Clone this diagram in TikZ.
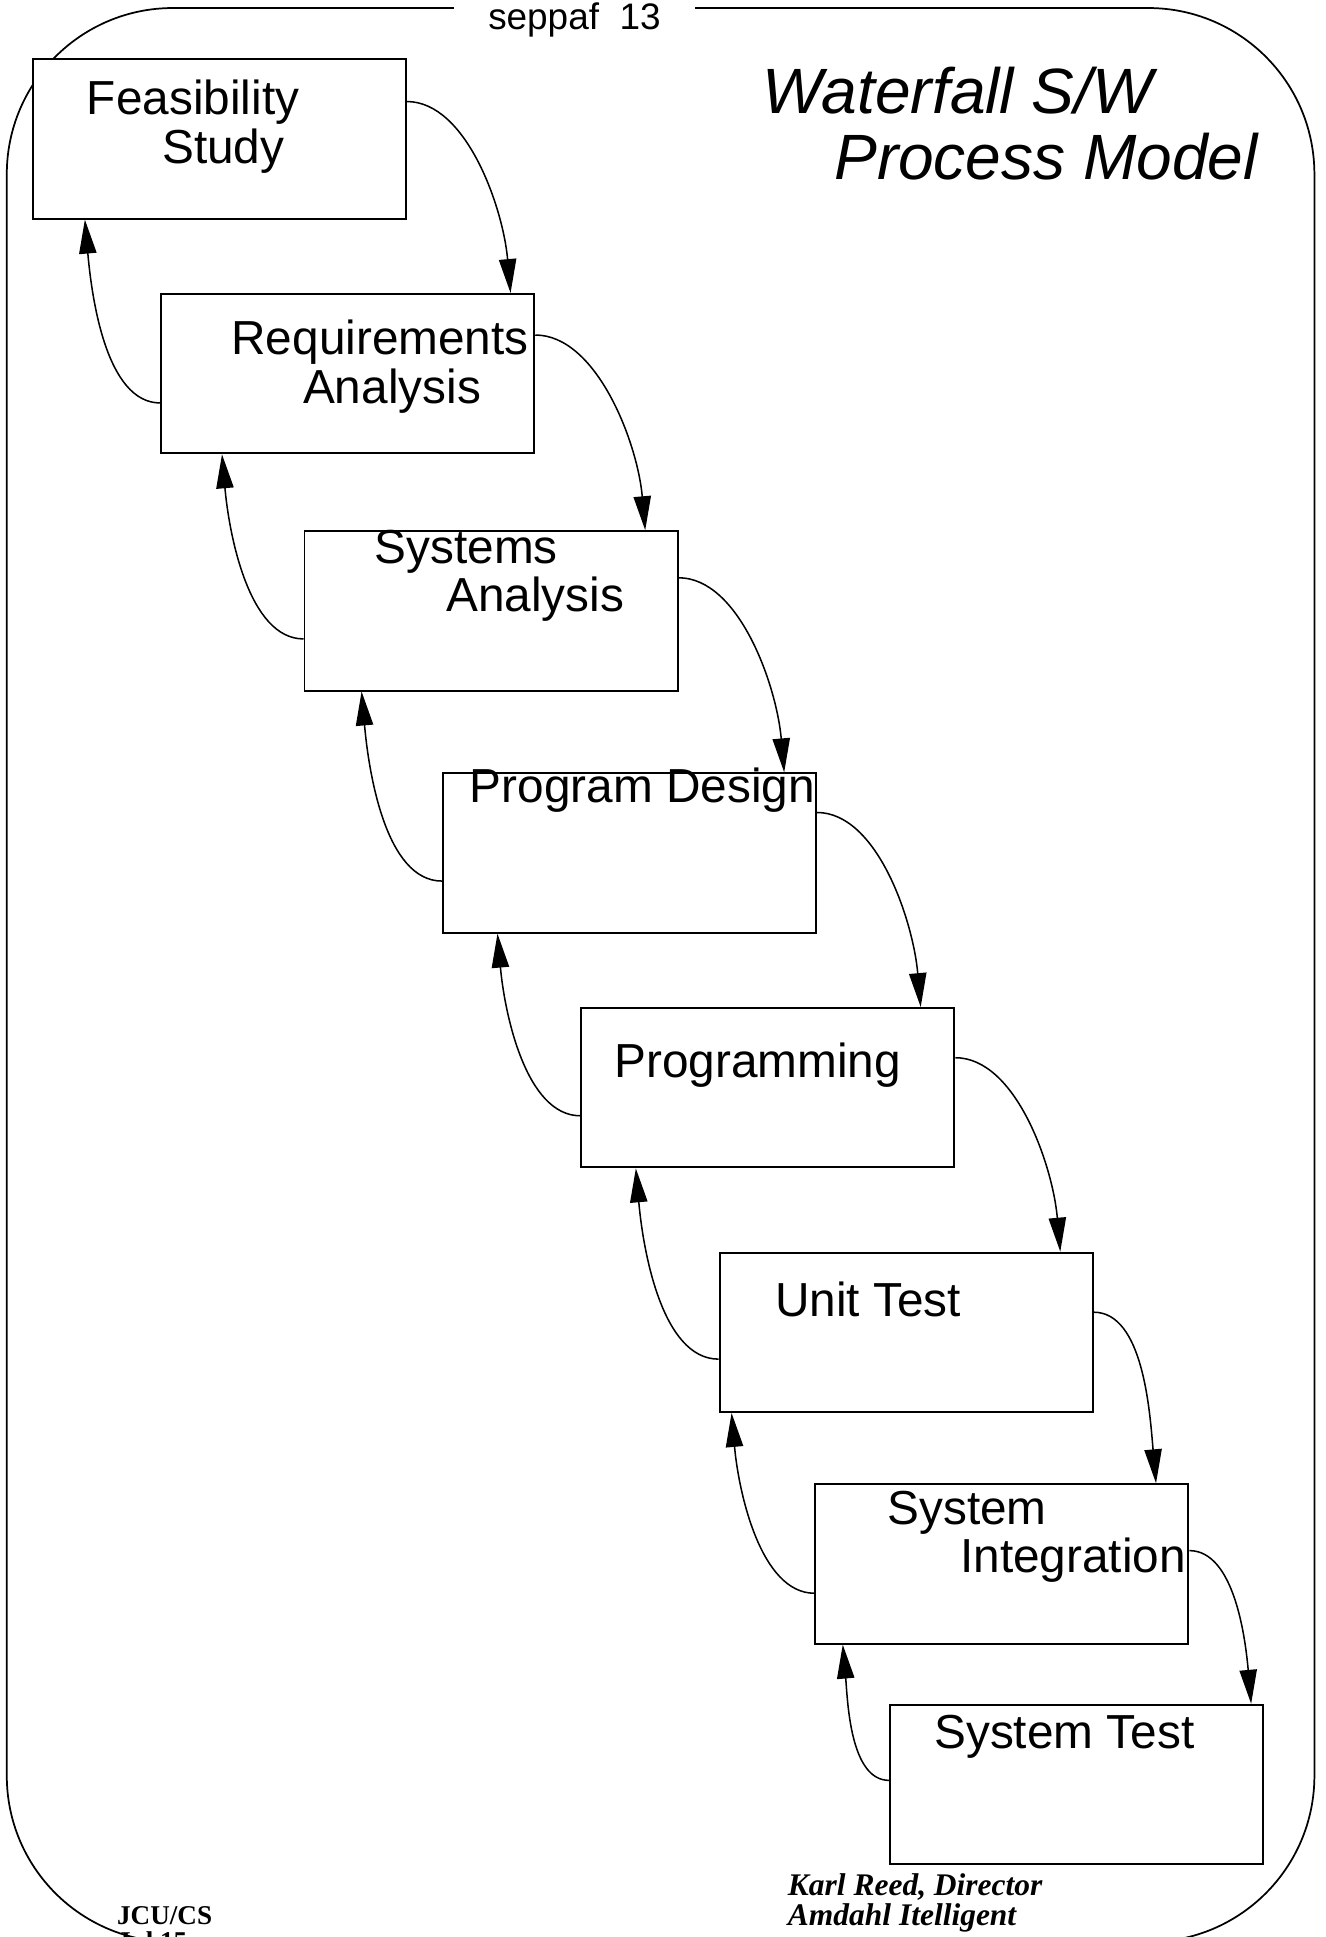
\documentclass[tikz,border=0pt]{standalone}
\usepackage{fontspec}
\setmainfont{Liberation Sans}
\newfontfamily\serifface{Liberation Serif}
\usetikzlibrary{arrows.meta}

\begin{document}
\begin{tikzpicture}[
    stage/.style={rectangle, draw, line width=0.9pt, fill=white,
                  minimum width=6.04cm, minimum height=2.58cm, inner sep=0pt},
    lbl/.style={anchor=base west, inner sep=0pt,
                font=\fontsize{22}{22}\selectfont},
    fwd/.style={-{Triangle[length=5.5mm,width=2.8mm]}, line width=0.7pt,
                out=0, in=95, out looseness=0.7},
    back/.style={-{Triangle[length=5.5mm,width=2.8mm]}, line width=0.7pt,
                 out=180, in=-85, out looseness=0.7},
    foot/.style={anchor=base west, inner sep=0pt}
  ]
  \useasboundingbox (0,0) rectangle (21.46,-31.36);
  %% Outer frame
  \draw[line width=0.8pt, rounded corners=2.69cm] (0.11,-0.13) rectangle (21.28,-31.44);
  \node[fill=white, inner xsep=0.55cm, inner ysep=2pt, anchor=base,
        font=\fontsize{17}{17}\selectfont] (slide) at (9.30,-0.48) {seppaf~~13};
  %% Title
  \node[foot, font=\fontsize{29.5}{30}\selectfont\itshape] (titleA) at (12.34,-1.84) {Waterfall S/W};
  \node[foot, font=\fontsize{29.5}{30}\selectfont\itshape] (titleB) at (13.50,-2.90) {Process Model};
  %% Stages
  \node[stage] (feas)    at (3.55,-2.25)   {};
  \node[stage] (req)     at (5.63,-6.05)   {};
  \node[stage] (sysan)   at (7.95,-9.89)   {};
  \node[stage] (pdesign) at (10.19,-13.81) {};
  \node[stage] (prog)    at (12.43,-17.61) {};
  \node[stage] (utest)   at (14.67,-21.57) {};
  \node[stage] (sysint)  at (16.22,-25.32) {};
  \node[stage] (systest) at (17.43,-28.89) {};
  %% Stage names
  \node[lbl] (feasA)    at (1.40,-1.86)   {Feasibility};
  \node[lbl] (feasB)    at (2.62,-2.64)   {Study};
  \node[lbl] (reqA)     at (3.74,-5.74)   {Requirements};
  \node[lbl] (reqB)     at (4.90,-6.54)   {Analysis};
  \node[lbl] (sysanA)   at (6.06,-9.12)   {Systems};
  \node[lbl] (sysanB)   at (7.22,-9.90)   {Analysis};
  \node[lbl] (pdesignA) at (7.60,-13.00)  {Program Design};
  \node[lbl] (progA)    at (9.94,-17.44)  {Programming};
  \node[lbl] (utestA)   at (12.54,-21.32) {Unit Test};
  \node[lbl] (sysintA)  at (14.36,-24.68) {System};
  \node[lbl] (sysintB)  at (15.54,-25.46) {Integration};
  \node[lbl] (systestA) at (15.12,-28.30) {System Test};
  %% Flow down
  \draw[fwd] ([yshift=-0.70cm]feas.north east)    to ([xshift=-0.40cm]req.north east);
  \draw[fwd] ([yshift=-0.68cm]req.north east)     to ([xshift=-0.54cm]sysan.north east);
  \draw[fwd] ([yshift=-0.77cm]sysan.north east)   to ([xshift=-0.53cm]pdesign.north east);
  \draw[fwd] ([yshift=-0.65cm]pdesign.north east) to ([xshift=-0.56cm]prog.north east);
  \draw[fwd] ([yshift=-0.82cm]prog.north east)    to ([xshift=-0.54cm]utest.north east);
  \draw[fwd] ([yshift=-0.98cm]utest.north east)   to ([xshift=-0.54cm]sysint.north east);
  \draw[fwd] ([yshift=-1.09cm]sysint.north east)  to ([xshift=-0.21cm]systest.north east);
  %% Feedback up
  \draw[back] ([yshift=-1.78cm]req.north west)     to ([xshift=0.86cm]feas.south west);
  \draw[back] ([yshift=-1.76cm]sysan.north west)   to ([xshift=1.00cm]req.south west);
  \draw[back] ([yshift=-1.76cm]pdesign.north west) to ([xshift=0.94cm]sysan.south west);
  \draw[back] ([yshift=-1.76cm]prog.north west)    to ([xshift=0.90cm]pdesign.south west);
  \draw[back] ([yshift=-1.74cm]utest.north west)   to ([xshift=0.90cm]prog.south west);
  \draw[back] ([yshift=-1.78cm]sysint.north west)  to ([xshift=0.21cm]utest.south west);
  \draw[back] ([yshift=-1.24cm]systest.north west) to ([xshift=0.46cm]sysint.south west);
  %% Footer
  \node[foot, font=\serifface\bfseries\fontsize{12.5}{12.5}\selectfont] (siteA) at (1.89,-31.15) {JCU/CS};
  \node[foot, font=\serifface\bfseries\fontsize{12.5}{12.5}\selectfont] (siteB) at (1.89,-31.58) {Jul 15};
  \node[foot, font=\serifface\bfseries\itshape\fontsize{14.5}{14.5}\selectfont] (authorA) at (12.75,-30.69) {Karl Reed, Director};
  \node[foot, font=\serifface\bfseries\itshape\fontsize{14.5}{14.5}\selectfont] (authorB) at (12.75,-31.18) {Amdahl Itelligent};
\end{tikzpicture}
\end{document}
